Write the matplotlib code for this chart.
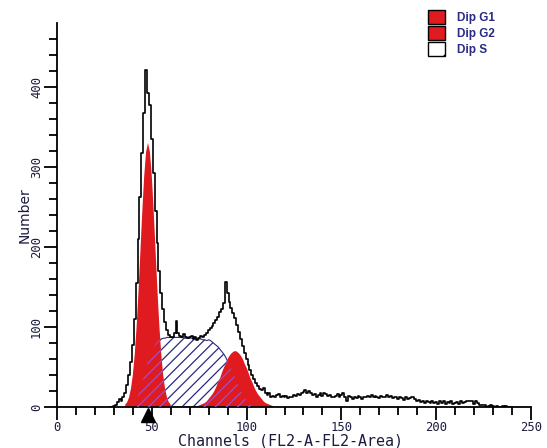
import numpy as np
import matplotlib
matplotlib.use("Agg")
import matplotlib.pyplot as plt
import matplotlib.transforms as mtransforms
from matplotlib.patches import Patch
from matplotlib.ticker import FixedLocator

# ---------------- data ----------------
data_start = 28
data_counts = [
    0, 0, 1, 3, 6, 10, 7, 12, 18, 28, 40, 56, 78, 110, 155, 210, 262, 318, 368, 421,   # 28-47
    392, 378, 335, 292, 245, 205, 170, 143, 122, 106, 96, 90, 87, 88, 93, 107, 92, 89, 87, 91,  # 48-67
    88, 86, 87, 89, 85, 88, 84, 86, 89, 87, 90, 93, 96, 99, 101, 105, 109, 113, 119, 123,  # 68-87
    130, 156, 143, 131, 124, 117, 111, 103, 94, 85, 76, 68, 60, 53, 46, 40, 35, 30, 26, 23,  # 88-107
    21, 24, 18, 15, 17, 13, 14, 12, 15, 16, 13, 14, 12, 14, 11, 13, 12, 15, 14, 16,  # 108-127
    15, 17, 19, 21, 18, 20, 17, 15, 16, 13, 15, 17, 14, 18, 16, 14, 15, 13, 12, 14,  # 128-147
    16, 13, 15, 17, 12, 8, 14, 12, 10, 13, 11, 14, 12, 10, 13, 12, 14, 13, 15, 12,  # 148-167
    14, 13, 11, 14, 12, 13, 15, 12, 14, 11, 13, 12, 10, 12, 11, 9, 12, 10, 11, 13,  # 168-187
    12, 10, 7, 9, 6, 7, 5, 8, 6, 5, 7, 5, 6, 4, 7, 5, 7, 4, 6, 5,  # 188-207
    7, 4, 5, 6, 4, 7, 5, 6, 8, 7, 8, 7, 4, 7, 5, 2, 2, 2, 2, 0,  # 208-227
    1, 2, 1, 0, 1, 0, 0, 1, 0, 1, 0, 0, 0,  # 228-240
]

g1_start = 36
g1_counts = [3, 6, 12, 23, 40, 66, 101, 145, 195, 245, 289, 319, 330,
             319, 289, 245, 195, 145, 101, 66, 40, 23, 12, 6, 3]

g2_start = 74
g2_counts = [1, 2, 3, 4, 5, 7, 10, 13, 16, 20, 25, 31, 36, 43, 49, 54, 60, 64, 67, 69,
             70, 69, 67, 64, 60, 54, 49, 43, 36, 31, 25, 20, 16, 13, 10, 7, 5, 4, 3, 2, 1]

s_start = 38
s_counts = [0, 1, 3, 6, 10, 16, 23, 31, 40, 49, 57, 64, 70, 75, 79, 82, 84, 85, 86, 86,  # 38-57
            87, 87, 87, 87, 87, 87, 87, 87, 87, 86, 86, 86, 86, 86, 86, 86, 85, 85, 85, 84,  # 58-77
            84, 83, 84, 83, 81, 79, 77, 75, 72, 69, 66, 62, 57, 52, 47, 41, 36, 30, 25, 20,  # 78-97
            15, 11, 8, 5, 3, 2, 1, 0]  # 98-105

legend_labels = ["Dip G1", "Dip G2", "Dip S"]
x_major = [0, 50, 100, 150, 200, 250]
y_major = [0, 100, 200, 300, 400]
x_label = "Channels (FL2-A-FL2-Area)"
y_label = "Number"

# ---------------- styling ----------------
RED = "#df1b20"
NAVY = "#2a2a82"
PURPLE = "#9a4fd0"
TXT = "#1c1c3e"

plt.rcParams["hatch.linewidth"] = 0.9

W, H = 547, 448
fig = plt.figure(figsize=(W / 100, H / 100), dpi=100)
ax = fig.add_axes([57 / W, 41 / H, 474 / W, 384 / H])

ch_data = np.arange(data_start, data_start + len(data_counts))
ch_g1 = np.arange(g1_start, g1_start + len(g1_counts))
ch_g2 = np.arange(g2_start, g2_start + len(g2_counts))
ch_s = np.arange(s_start, s_start + len(s_counts))

# S phase (white with navy hatching)
ax.fill_between(ch_s, 0, s_counts, facecolor="white", edgecolor=NAVY,
                hatch="///", linewidth=0.8, zorder=1)

# G1 and G2 (red)
red1 = ax.fill_between(ch_g1, 0, g1_counts, facecolor=RED, edgecolor="none",
                       linewidth=0, zorder=2)
red2 = ax.fill_between(ch_g2, 0, g2_counts, facecolor=RED, edgecolor="none",
                       linewidth=0, zorder=2)

# S hatching showing through on top of the red components
for red in (red1, red2):
    hp = ax.fill_between(ch_s, 0, s_counts, facecolor="none", edgecolor=PURPLE,
                         hatch="///", linewidth=0, zorder=3)
    hp.set_clip_path(red.get_paths()[0], ax.transData)

# measured histogram
ax.step(ch_data, data_counts, where="mid", color="black", lw=1.2, zorder=4)

# peak marker under the axis
peak_ch = ch_g1[int(np.argmax(g1_counts))]
trans = mtransforms.blended_transform_factory(ax.transData, ax.transAxes)
ax.plot([peak_ch], [-0.022], marker="^", ms=10, color="black",
        transform=trans, clip_on=False, zorder=6)

# axes
ax.set_xlim(0, 250)
ax.set_ylim(0, 480)
for s in ("top", "right"):
    ax.spines[s].set_visible(False)
for s in ("left", "bottom"):
    ax.spines[s].set_linewidth(1.3)

ax.xaxis.set_major_locator(FixedLocator(x_major))
ax.xaxis.set_minor_locator(FixedLocator(list(range(0, 251, 10))))
ax.yaxis.set_major_locator(FixedLocator(y_major))
ax.yaxis.set_minor_locator(FixedLocator(list(range(0, 461, 20))))
ax.tick_params(which="major", direction="out", length=9.5, width=1.3, color="black",
               labelsize=8.8, labelcolor=TXT, pad=0.6)
ax.tick_params(which="minor", direction="out", length=5.8, width=1.3, color="black")
ax.set_xticklabels([str(v) for v in x_major], family="DejaVu Sans Mono")
ax.set_yticklabels([str(v) for v in y_major], family="DejaVu Sans Mono",
                   rotation=90, va="center")

ax.set_xlabel(x_label, family="DejaVu Sans Mono", fontsize=10.8, color=TXT)
ax.xaxis.set_label_coords(0.492, -0.069)
ax.set_ylabel(y_label, family="DejaVu Sans", fontsize=10, color=TXT)
ax.yaxis.set_label_coords(-0.053, 0.5)

# legend
handles = [Patch(facecolor=RED, edgecolor="black", linewidth=1.0),
           Patch(facecolor=RED, edgecolor="black", linewidth=1.0),
           Patch(facecolor="white", edgecolor="black", linewidth=1.0, hatch="/")]
leg = fig.legend(handles, legend_labels, loc="upper left",
                 bbox_to_anchor=(428 / W, 1 - 10 / H), bbox_transform=fig.transFigure,
                 frameon=False, borderpad=0, borderaxespad=0,
                 prop={"family": "Liberation Sans", "size": 8.5, "weight": "bold"},
                 handlelength=1.45, handleheight=1.4, handletextpad=1.0,
                 labelspacing=0.2)
for t in leg.get_texts():
    t.set_color(NAVY)

fig.savefig("out.png", dpi=100)
